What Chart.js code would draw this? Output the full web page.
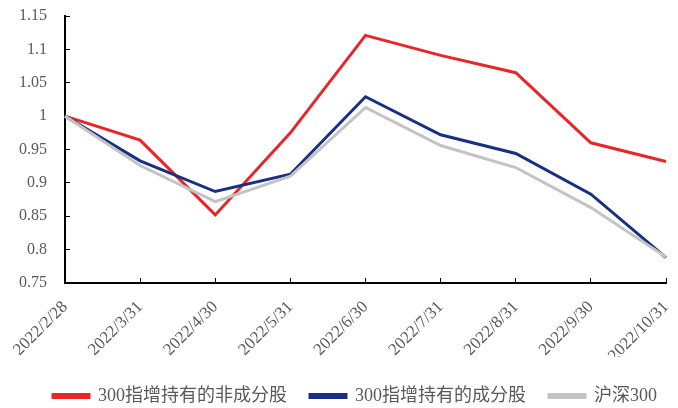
<!DOCTYPE html>
<html>
<head>
<meta charset="utf-8">
<script src="https://cdn.jsdelivr.net/npm/chart.js@4.4.0/dist/chart.umd.min.js"></script>
<style>
  html, body { margin: 0; padding: 0; background: #fff; }
  #wrap { width: 678px; height: 408px; }
</style>
</head>
<body>
<div id="wrap"><canvas id="chart" width="678" height="408"></canvas></div>
<script>
    'use strict';

    // month-end dates on the x axis
    const dates = ['2022/2/28', '2022/3/31', '2022/4/30', '2022/5/31', '2022/6/30',
                   '2022/7/31', '2022/8/31', '2022/9/30', '2022/10/31'];

    // values (normalised to 1 at 2022/2/28)
    const nonConstituent = [1.000, 0.964, 0.852, 0.975, 1.121, 1.091, 1.065, 0.960, 0.932];
    const constituent    = [1.000, 0.933, 0.887, 0.913, 1.029, 0.972, 0.944, 0.883, 0.788];
    const csi300         = [1.000, 0.926, 0.872, 0.910, 1.013, 0.956, 0.923, 0.863, 0.789];

    const seriesNames = ['300指增持有的非成分股', '300指增持有的成分股', '沪深300'];
    const seriesColors = ['#E8262A', '#182F84', '#C3C3C3'];

    const FONT = '"Liberation Serif", "Times New Roman", "Noto Sans CJK SC", serif';
    const TEXT = '#595959';

    const makeDataset = (i, data) => ({
        label: seriesNames[i],
        data: data,
        borderColor: seriesColors[i],
        backgroundColor: seriesColors[i],
        borderWidth: 3,
        pointRadius: 0,
        tension: 0,
        order: 3 - i // red on top, grey underneath
    });

    // nudge the legend box after layout (reference legend sits a bit right/low)
    const legendNudge = {
        id: 'legendNudge',
        afterLayout(chart) {
            const lg = chart.legend;
            if (!lg) return;
            lg.left += 30;
            lg.right += 30;
            lg.top += 7;
            lg.bottom += 7;
        }
    };

    new Chart(document.getElementById('chart'), {
        type: 'line',
        data: {
            labels: dates,
            datasets: [
                makeDataset(0, nonConstituent),
                makeDataset(1, constituent),
                makeDataset(2, csi300)
            ]
        },
        plugins: [legendNudge],
        options: {
            responsive: false,
            animation: false,
            layout: { padding: { left: 0, right: 12, top: 16, bottom: 0 } },
            plugins: {
                tooltip: { enabled: false },
                legend: {
                    position: 'bottom',
                    align: 'start',
                    labels: {
                        boxWidth: 36,
                        boxHeight: 3,
                        padding: 23,
                        color: TEXT,
                        font: { family: FONT, size: 18 },
                        sort: (a, b) => a.datasetIndex - b.datasetIndex
                    }
                }
            },
            scales: {
                x: {
                    offset: false,
                    grid: {
                        drawOnChartArea: false,
                        drawTicks: true,
                        tickLength: -5,
                        color: '#000',
                        lineWidth: 1
                    },
                    border: { color: '#000', width: 2 },
                    ticks: {
                        autoSkip: false,
                        maxRotation: 45,
                        minRotation: 45,
                        padding: 19,
                        color: TEXT,
                        font: { family: FONT, size: 17 }
                    },
                    afterFit(scale) {
                        scale.height = 74;
                        scale.paddingLeft = 0;
                        scale.paddingRight = 0;
                    }
                },
                y: {
                    min: 0.75,
                    max: 1.15,
                    grid: {
                        drawOnChartArea: false,
                        drawTicks: true,
                        tickLength: -5,
                        color: '#000',
                        lineWidth: 1
                    },
                    border: { color: '#000', width: 2 },
                    ticks: {
                        stepSize: 0.05,
                        padding: 23,
                        color: TEXT,
                        font: { family: FONT, size: 16 },
                        callback: (v) => String(Math.round(v * 100) / 100)
                    },
                    afterFit(scale) {
                        scale.width = 65;
                        scale.paddingTop = 0;
                        scale.paddingBottom = 0;
                    }
                }
            }
        }
    });
</script>
</body>
</html>
